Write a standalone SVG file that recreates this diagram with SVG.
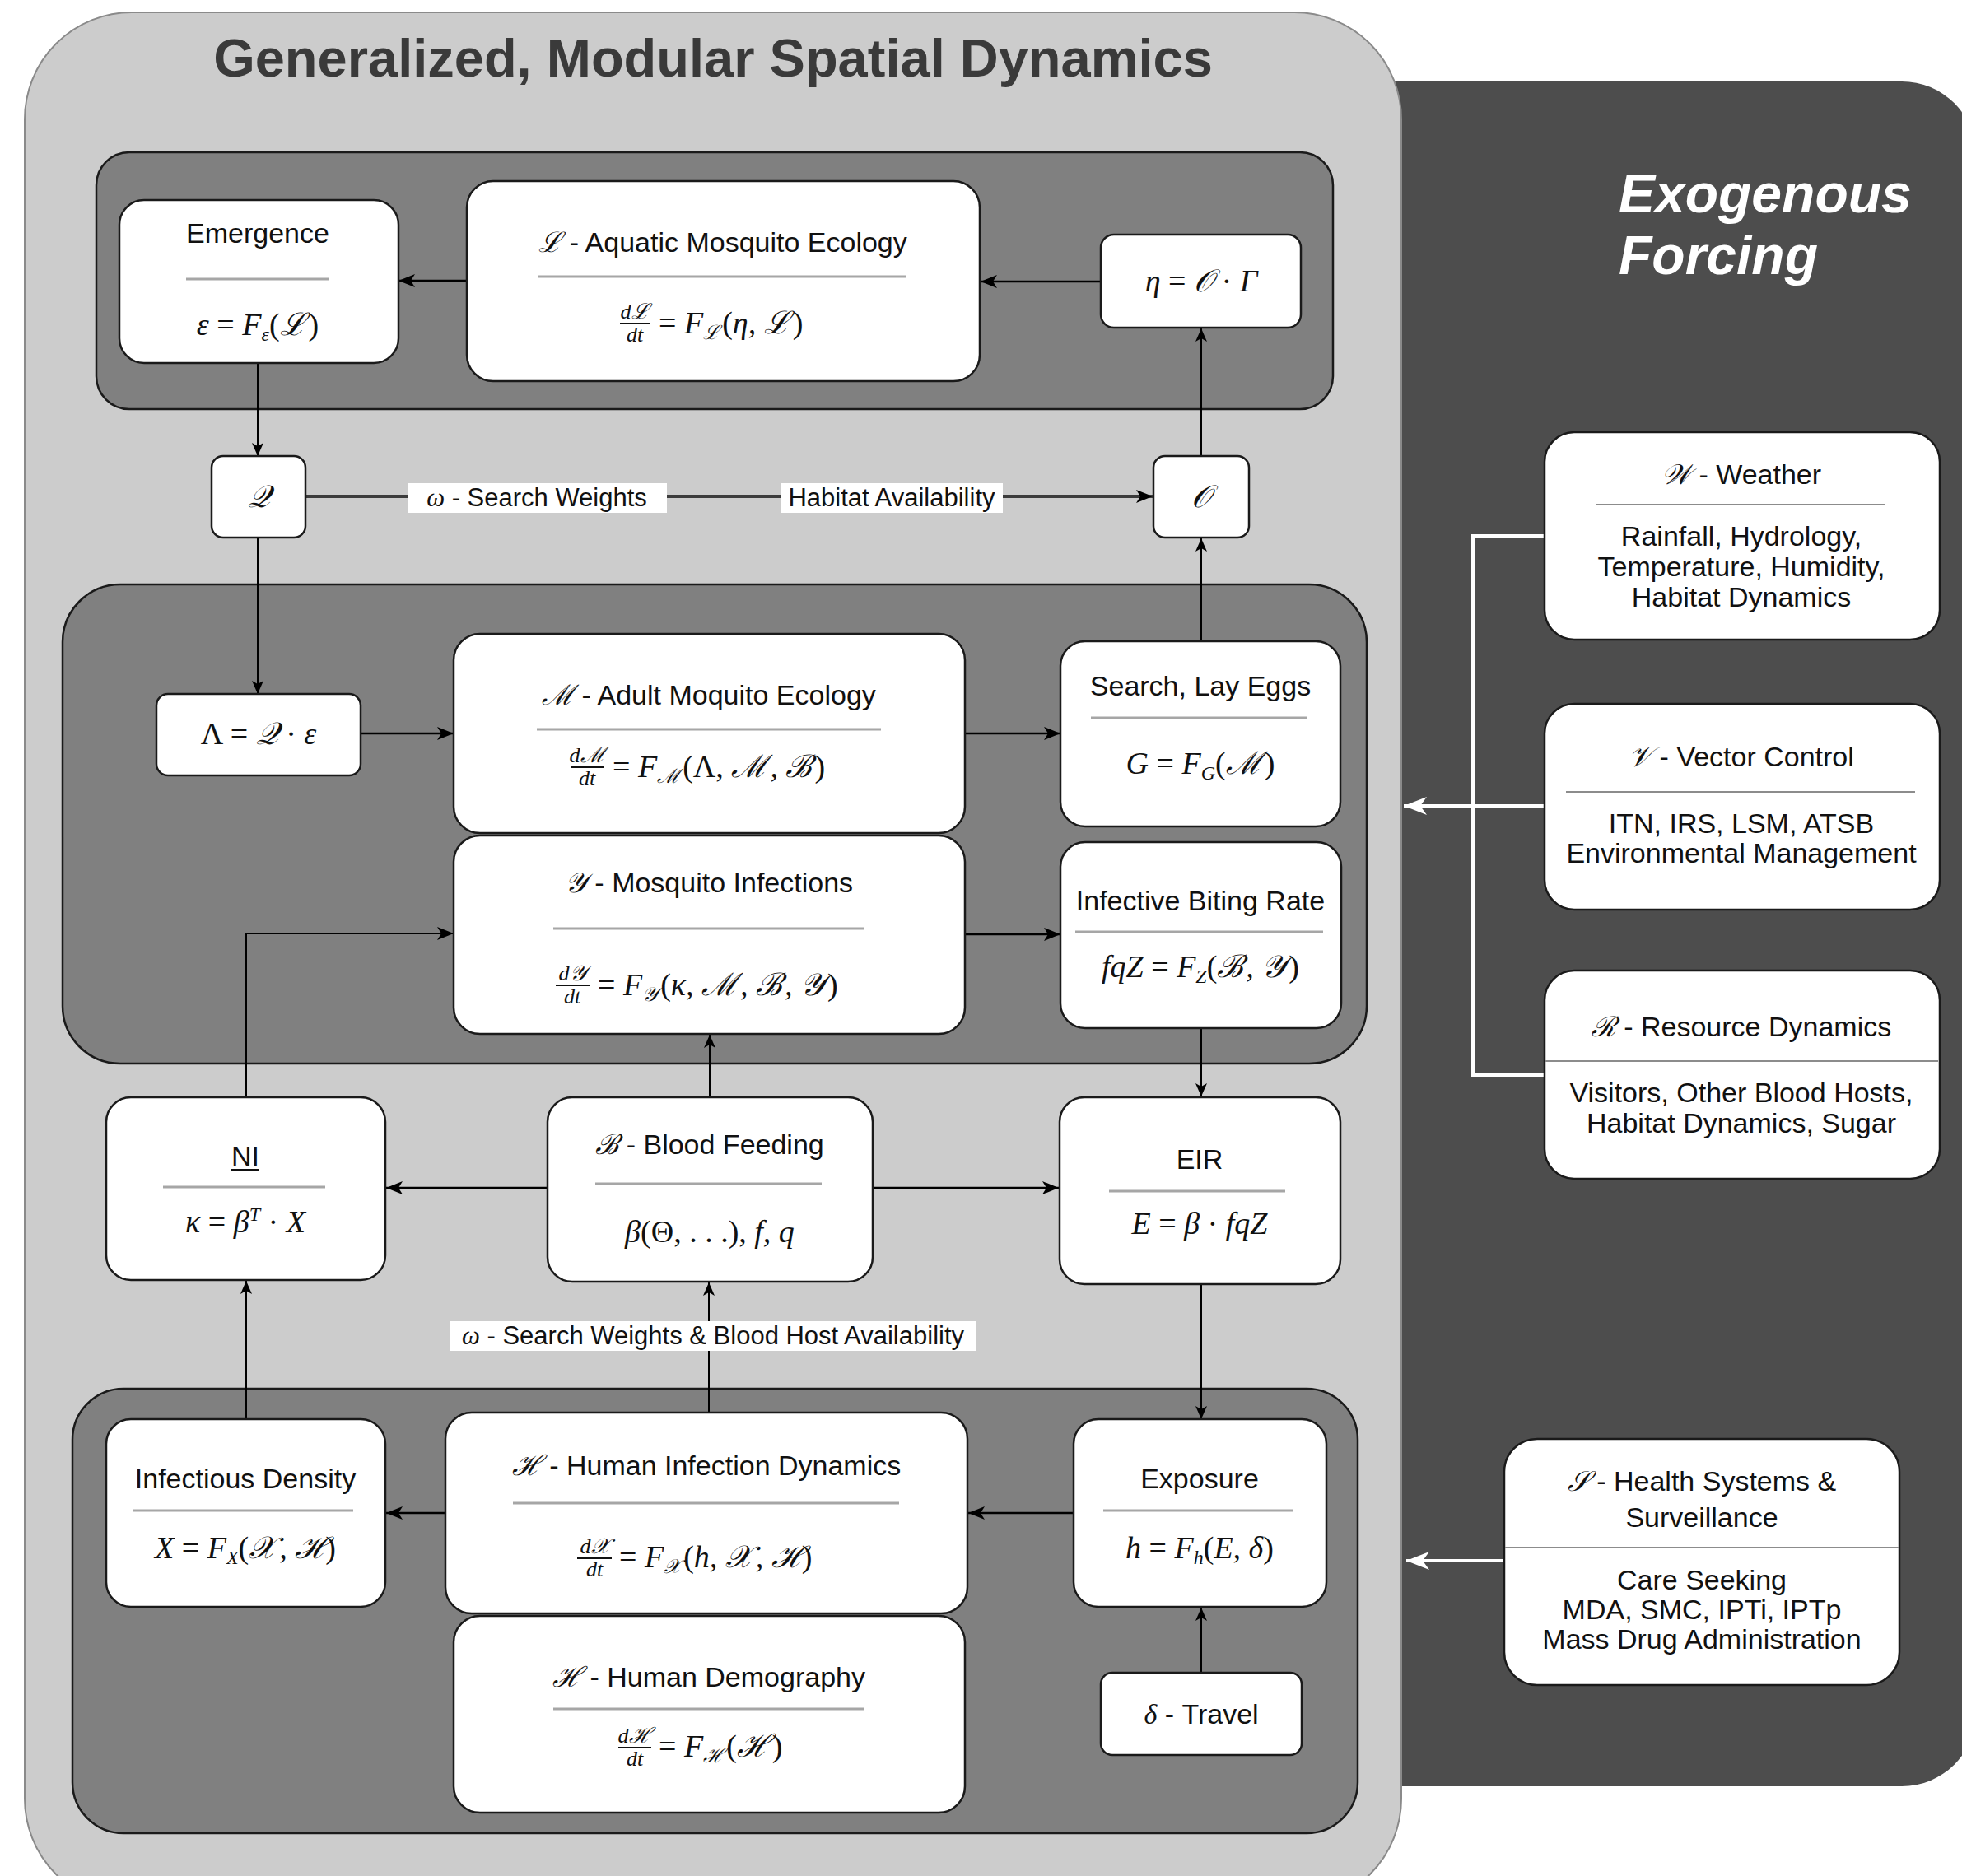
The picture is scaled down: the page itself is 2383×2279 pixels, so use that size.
<svg xmlns="http://www.w3.org/2000/svg" width="2383" height="2279" viewBox="0 0 2383 2279">
<style>
.bg{fill:#ffffff}
.outer{fill:#cccccc;stroke:#8a8a8a;stroke-width:2}
.exo{fill:#4d4d4d}
.panel{fill:#808080;stroke:#1a1a1a;stroke-width:2.5}
.box{fill:#ffffff;stroke:#1a1a1a;stroke-width:2.5}
.sep{stroke:#a6a6a6;stroke-width:3}
.sep2{stroke:#8c8c8c;stroke-width:2}
.t{font-family:"Liberation Sans",Arial,sans-serif;font-size:34px;fill:#111;text-anchor:middle}
.lbl{font-family:"Liberation Sans",Arial,sans-serif;font-size:31px;fill:#111;text-anchor:middle}
.m{font-family:"Liberation Serif","DejaVu Serif",serif;font-style:italic;font-size:38px;fill:#111;text-anchor:middle}
.ms{font-family:"Liberation Serif","DejaVu Serif",serif;font-style:italic;font-size:38px;fill:#111}
.fr{font-family:"Liberation Serif","DejaVu Serif",serif;font-style:italic;font-size:26px;fill:#111;text-anchor:middle}
.sc{font-family:"Liberation Serif","DejaVu Serif",serif;font-style:italic}
.up{font-style:normal}
.conn{fill:none;stroke:#000;stroke-width:2.5}
.thin{fill:none;stroke:#000;stroke-width:2}
.wconn{fill:none;stroke:#ffffff;stroke-width:4}
.title{font-family:"Liberation Sans",Arial,sans-serif;font-weight:bold;font-size:65px;fill:#3a3a3a;text-anchor:middle}
.exot{font-family:"Liberation Sans",Arial,sans-serif;font-weight:bold;font-style:italic;font-size:66px;fill:#ffffff}
</style>
<defs>
<marker id="ah" viewBox="0 0 20 16" refX="20" refY="8" markerWidth="20" markerHeight="16" markerUnits="userSpaceOnUse" orient="auto"><path d="M0,0 L20,8 L0,16 L5,8 z" fill="#000"/></marker>
<marker id="ahs" viewBox="0 0 16 14" refX="16" refY="7" markerWidth="16" markerHeight="14" markerUnits="userSpaceOnUse" orient="auto"><path d="M0,0 L16,7 L0,14 L4,7 z" fill="#000"/></marker>
<marker id="ahw" viewBox="0 0 28 22" refX="28" refY="11" markerWidth="28" markerHeight="22" markerUnits="userSpaceOnUse" orient="auto"><path d="M0,0 L28,11 L0,22 L8,11 z" fill="#fff"/></marker>
</defs>
<rect class="bg" x="0" y="0" width="2383" height="2279"/>

<g id="exogenous-panel">
<rect class="exo" x="1600" y="99" width="800" height="2071" rx="90"/>
<text class="exot" x="1966" y="258">Exogenous</text>
<text class="exot" x="1966" y="333">Forcing</text>
</g>

<g id="spatial-panel">
<rect class="outer" x="30" y="15" width="1672" height="2300" rx="130"/>
<text class="title" x="866" y="93">Generalized, Modular Spatial Dynamics</text>
<rect class="panel" x="117" y="185" width="1502" height="312" rx="40"/>
<rect class="panel" x="76" y="710" width="1584" height="582" rx="70"/>
<rect class="panel" x="88" y="1687" width="1561" height="540" rx="62"/>
</g>

<g id="connectors">
<line class="conn" x1="566" y1="341" x2="484" y2="341" marker-end="url(#ah)"/>
<line class="conn" x1="1337" y1="342" x2="1191" y2="342" marker-end="url(#ah)"/>
<line class="thin" x1="313" y1="441" x2="313" y2="554" marker-end="url(#ahs)"/>
<line x1="371" y1="603" x2="1400" y2="603" stroke="#3c3c3c" stroke-width="4" marker-end="url(#ah)"/>
<line class="thin" x1="313" y1="653" x2="313" y2="843" marker-end="url(#ahs)"/>
<line class="thin" x1="1459" y1="779" x2="1459" y2="654" marker-end="url(#ahs)"/>
<line class="thin" x1="1459" y1="554" x2="1459" y2="399" marker-end="url(#ahs)"/>
<line class="conn" x1="438" y1="891" x2="551" y2="891" marker-end="url(#ah)"/>
<line class="conn" x1="1172" y1="891" x2="1288" y2="891" marker-end="url(#ah)"/>
<line class="conn" x1="1172" y1="1135" x2="1288" y2="1135" marker-end="url(#ah)"/>
<polyline class="thin" points="299,1333 299,1134 551,1134" marker-end="url(#ah)"/>
<line class="thin" x1="862" y1="1333" x2="862" y2="1257" marker-end="url(#ahs)"/>
<line class="thin" x1="1459" y1="1249" x2="1459" y2="1332" marker-end="url(#ahs)"/>
<line class="conn" x1="665" y1="1443" x2="469" y2="1443" marker-end="url(#ah)"/>
<line class="conn" x1="1060" y1="1443" x2="1286" y2="1443" marker-end="url(#ah)"/>
<line class="thin" x1="299" y1="1724" x2="299" y2="1556" marker-end="url(#ahs)"/>
<line class="thin" x1="861" y1="1716" x2="861" y2="1558" marker-end="url(#ahs)"/>
<line class="thin" x1="1459" y1="1560" x2="1459" y2="1724" marker-end="url(#ahs)"/>
<line class="thin" x1="1459" y1="2031" x2="1459" y2="1953" marker-end="url(#ahs)"/>
<line class="conn" x1="1304" y1="1838" x2="1176" y2="1838" marker-end="url(#ah)"/>
<line class="conn" x1="541" y1="1838" x2="469" y2="1838" marker-end="url(#ah)"/>
<polyline class="wconn" points="1876,651 1789,651 1789,1306 1876,1306"/>
<line class="wconn" x1="1876" y1="979" x2="1705" y2="979" marker-end="url(#ahw)"/>
<line class="wconn" x1="1827" y1="1896" x2="1708" y2="1896" marker-end="url(#ahw)"/>
<rect x="495" y="587" width="315" height="36" fill="#fff"/>
<text class="lbl" x="652" y="615"><tspan class="sc">ω</tspan> - Search Weights</text>
<rect x="948" y="587" width="270" height="36" fill="#fff"/>
<text class="lbl" x="1083" y="615">Habitat Availability</text>
<rect x="547" y="1605" width="638" height="36" fill="#fff"/>
<text class="lbl" x="866" y="1633"><tspan class="sc">ω</tspan> - Search Weights  &amp; Blood Host Availability</text>
</g>

<g id="emergence">
<rect class="box" x="145" y="243" width="339" height="198" rx="30"/>
<text class="t" x="313" y="295">Emergence</text>
<line class="sep" x1="226" y1="339" x2="400" y2="339"/>
<text class="m" x="313" y="407">ε <tspan class="up">=</tspan> F<tspan font-size="24" dy="7">ε</tspan><tspan dy="-7" class="up">(</tspan>ℒ<tspan class="up" dx="3">)</tspan></text>
</g>
<g id="aquatic">
<rect class="box" x="567" y="220" width="623" height="243" rx="32"/>
<text class="t" x="878" y="306"><tspan class="sc">ℒ</tspan> - Aquatic Mosquito Ecology</text>
<line class="sep" x1="654" y1="336" x2="1100" y2="336"/>
<text class="fr" x="771" y="387">dℒ</text>
<line x1="753" y1="393" x2="790" y2="393" stroke="#111" stroke-width="2"/>
<text class="fr" x="771" y="415">dt</text>
<text class="ms" x="800" y="405"><tspan class="up">=</tspan> F<tspan font-size="24" dy="7">ℒ</tspan><tspan dy="-7" class="up" dx="3">(</tspan>η, ℒ<tspan class="up" dx="3">)</tspan></text>
</g>
<g id="eta">
<rect class="box" x="1337" y="285" width="243" height="113" rx="16"/>
<text class="m" x="1459" y="354">η <tspan class="up">=</tspan> 𝒪 <tspan class="up">·</tspan> Γ</text>
</g>
<g id="Q">
<rect class="box" x="257" y="554" width="114" height="99" rx="14"/>
<text class="m" x="314" y="616">𝒬</text>
</g>
<g id="O">
<rect class="box" x="1401" y="554" width="116" height="99" rx="14"/>
<text class="m" x="1459" y="616">𝒪</text>
</g>

<g id="lambda">
<rect class="box" x="190" y="843" width="248" height="99" rx="14"/>
<text class="m" x="314" y="904"><tspan class="up">Λ =</tspan> 𝒬 <tspan class="up">·</tspan> ε</text>
</g>
<g id="adult">
<rect class="box" x="551" y="770" width="621" height="242" rx="32"/>
<text class="t" x="861" y="856"><tspan class="sc">ℳ</tspan> - Adult Moquito Ecology</text>
<line class="sep" x1="652" y1="886" x2="1070" y2="886"/>
<text class="fr" x="713" y="926">dℳ</text>
<line x1="693" y1="932" x2="734" y2="932" stroke="#111" stroke-width="2"/>
<text class="fr" x="713" y="954">dt</text>
<text class="ms" x="744" y="944"><tspan class="up">=</tspan> F<tspan font-size="24" dy="7">ℳ</tspan><tspan dy="-7" class="up" dx="3">(Λ,</tspan> ℳ<tspan dx="3">,</tspan> ℬ<tspan class="up" dx="3">)</tspan></text>
</g>
<g id="infections">
<rect class="box" x="551" y="1015" width="621" height="241" rx="32"/>
<text class="t" x="861" y="1084"><tspan class="sc">𝒴</tspan> - Mosquito Infections</text>
<line class="sep" x1="672" y1="1128" x2="1049" y2="1128"/>
<text class="fr" x="695" y="1191">d𝒴</text>
<line x1="675" y1="1197" x2="716" y2="1197" stroke="#111" stroke-width="2"/>
<text class="fr" x="695" y="1219">dt</text>
<text class="ms" x="726" y="1209"><tspan class="up">=</tspan> F<tspan font-size="24" dy="7">𝒴</tspan><tspan dy="-7" class="up" dx="3">(</tspan>κ, ℳ<tspan dx="3">,</tspan> ℬ<tspan dx="3">,</tspan> 𝒴<tspan class="up" dx="3">)</tspan></text>
</g>
<g id="search">
<rect class="box" x="1288" y="779" width="340" height="225" rx="30"/>
<text class="t" x="1458" y="845">Search, Lay Eggs</text>
<line class="sep" x1="1325" y1="872" x2="1587" y2="872"/>
<text class="m" x="1458" y="940">G <tspan class="up">=</tspan> F<tspan font-size="24" dy="7">G</tspan><tspan dy="-7" class="up">(</tspan>ℳ<tspan class="up" dx="3">)</tspan></text>
</g>
<g id="biting">
<rect class="box" x="1288" y="1023" width="341" height="226" rx="30"/>
<text class="t" x="1458" y="1106">Infective Biting Rate</text>
<line class="sep" x1="1306" y1="1132" x2="1607" y2="1132"/>
<text class="m" x="1458" y="1187">fqZ <tspan class="up">=</tspan> F<tspan font-size="24" dy="7">Z</tspan><tspan dy="-7" class="up">(</tspan>ℬ<tspan dx="3">,</tspan> 𝒴<tspan class="up" dx="3">)</tspan></text>
</g>

<g id="NI">
<rect class="box" x="129" y="1333" width="339" height="222" rx="30"/>
<text class="t" x="298" y="1416">NI</text>
<line x1="281" y1="1421" x2="315" y2="1421" stroke="#111" stroke-width="2"/>
<line class="sep" x1="198" y1="1442" x2="395" y2="1442"/>
<text class="m" x="298" y="1497">κ <tspan class="up">=</tspan> β<tspan font-size="24" dy="-14">T</tspan><tspan dy="14"> </tspan><tspan class="up">·</tspan> X</text>
</g>
<g id="blood-feeding">
<rect class="box" x="665" y="1333" width="395" height="224" rx="30"/>
<text class="t" x="862" y="1402"><tspan class="sc">ℬ</tspan> - Blood Feeding</text>
<line class="sep" x1="723" y1="1438" x2="998" y2="1438"/>
<text class="m" x="862" y="1509">β<tspan class="up">(Θ, . . .),</tspan> f, q</text>
</g>
<g id="EIR">
<rect class="box" x="1287" y="1333" width="341" height="227" rx="30"/>
<text class="t" x="1457" y="1420">EIR</text>
<line class="sep" x1="1347" y1="1447" x2="1561" y2="1447"/>
<text class="m" x="1457" y="1499">E <tspan class="up">=</tspan> β <tspan class="up">·</tspan> fqZ</text>
</g>

<g id="infectious-density">
<rect class="box" x="129" y="1724" width="339" height="228" rx="30"/>
<text class="t" x="298" y="1808">Infectious Density</text>
<line class="sep" x1="162" y1="1835" x2="429" y2="1835"/>
<text class="m" x="298" y="1893">X <tspan class="up">=</tspan> F<tspan font-size="24" dy="7">X</tspan><tspan dy="-7" class="up">(</tspan>𝒳<tspan dx="4">,</tspan> ℋ<tspan class="up" dx="3">)</tspan></text>
</g>
<g id="human-infection">
<rect class="box" x="541" y="1716" width="634" height="244" rx="32"/>
<text class="t" x="858" y="1792"><tspan class="sc">ℋ</tspan> - Human Infection Dynamics</text>
<line class="sep" x1="623" y1="1826" x2="1092" y2="1826"/>
<text class="fr" x="722" y="1887">d𝒳</text>
<line x1="701" y1="1893" x2="743" y2="1893" stroke="#111" stroke-width="2"/>
<text class="fr" x="722" y="1915">dt</text>
<text class="ms" x="752" y="1904"><tspan class="up">=</tspan> F<tspan font-size="24" dy="7">𝒳</tspan><tspan dy="-7" class="up" dx="3">(</tspan>h, 𝒳<tspan dx="4">,</tspan> ℋ<tspan class="up" dx="3">)</tspan></text>
</g>
<g id="human-demography">
<rect class="box" x="551" y="1963" width="621" height="239" rx="32"/>
<text class="t" x="861" y="2049"><tspan class="sc">ℋ</tspan> - Human Demography</text>
<line class="sep" x1="672" y1="2076" x2="1049" y2="2076"/>
<text class="fr" x="771" y="2117">dℋ</text>
<line x1="751" y1="2123" x2="791" y2="2123" stroke="#111" stroke-width="2"/>
<text class="fr" x="771" y="2145">dt</text>
<text class="ms" x="800" y="2134"><tspan class="up">=</tspan> F<tspan font-size="24" dy="7">ℋ</tspan><tspan dy="-7" class="up" dx="3">(</tspan>ℋ<tspan class="up" dx="3">)</tspan></text>
</g>
<g id="exposure">
<rect class="box" x="1304" y="1724" width="307" height="228" rx="30"/>
<text class="t" x="1457" y="1808">Exposure</text>
<line class="sep" x1="1340" y1="1835" x2="1570" y2="1835"/>
<text class="m" x="1457" y="1893">h <tspan class="up">=</tspan> F<tspan font-size="24" dy="7">h</tspan><tspan dy="-7" class="up">(</tspan>E, δ<tspan class="up">)</tspan></text>
</g>
<g id="travel">
<rect class="box" x="1337" y="2032" width="244" height="100" rx="14"/>
<text class="t" x="1459" y="2094"><tspan class="sc">δ</tspan> - Travel</text>
</g>

<g id="weather">
<rect class="box" x="1876" y="525" width="480" height="252" rx="36"/>
<text class="t" x="2115" y="588"><tspan class="sc">𝒲</tspan> - Weather</text>
<line class="sep2" x1="1939" y1="613" x2="2289" y2="613"/>
<text class="t" x="2115" y="663">Rainfall, Hydrology,</text>
<text class="t" x="2115" y="700">Temperature, Humidity,</text>
<text class="t" x="2115" y="737">Habitat Dynamics</text>
</g>
<g id="vector-control">
<rect class="box" x="1876" y="855" width="480" height="250" rx="36"/>
<text class="t" x="2115" y="931"><tspan class="sc">𝒱</tspan> - Vector Control</text>
<line class="sep2" x1="1902" y1="962" x2="2326" y2="962"/>
<text class="t" x="2115" y="1012">ITN, IRS, LSM, ATSB</text>
<text class="t" x="2115" y="1048">Environmental Management</text>
</g>
<g id="resource">
<rect class="box" x="1876" y="1179" width="480" height="253" rx="36"/>
<text class="t" x="2115" y="1259"><tspan class="sc">ℛ</tspan> - Resource Dynamics</text>
<line class="sep2" x1="1877" y1="1289" x2="2354" y2="1289"/>
<text class="t" x="2115" y="1339">Visitors, Other Blood Hosts,</text>
<text class="t" x="2115" y="1376">Habitat Dynamics, Sugar</text>
</g>
<g id="health-systems">
<rect class="box" x="1827" y="1748" width="480" height="299" rx="40"/>
<text class="t" x="2067" y="1811"><tspan class="sc">𝒮</tspan> - Health Systems &amp;</text>
<text class="t" x="2067" y="1855">Surveillance</text>
<line class="sep2" x1="1828" y1="1880" x2="2306" y2="1880"/>
<text class="t" x="2067" y="1931">Care Seeking</text>
<text class="t" x="2067" y="1967">MDA, SMC, IPTi, IPTp</text>
<text class="t" x="2067" y="2003">Mass Drug Administration</text>
</g>
</svg>
